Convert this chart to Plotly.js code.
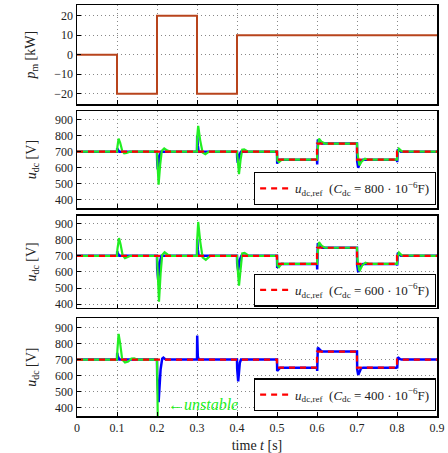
<!DOCTYPE html>
<html>
<head>
<meta charset="utf-8">
<script src="https://cdn.plot.ly/plotly-3.0.1.min.js"></script>
<style>html,body{margin:0;padding:0;background:#fff;}#chart{width:448px;height:453px;}</style>
</head>
<body>
<div id="chart"></div>
<script>
// ---------- data ----------
const pm_t = [0, 0.1, 0.2, 0.3, 0.4, 0.9];
const pm_v = [0, -20, 20, -20, 10, 10];

const ref_t = [0, 0.5, 0.6, 0.7, 0.8, 0.9];
const ref_v = [700, 650, 750, 650, 700, 700];

const capLabels = ["800", "600", "400"];

// C = 800e-6 F
const blue800_t = [0, 0.1, 0.1005, 0.102, 0.106, 0.2, 0.2005, 0.202, 0.206, 0.21, 0.3, 0.3005, 0.302, 0.304, 0.4, 0.4005, 0.402, 0.406, 0.41, 0.5, 0.5005, 0.502, 0.506, 0.6, 0.6005, 0.602, 0.606, 0.612, 0.7, 0.7005, 0.703, 0.708, 0.714, 0.8, 0.8005, 0.802, 0.806, 0.81, 0.9];
const blue800_v = [700, 700, 722, 712, 700, 700, 640, 590, 670, 700, 700, 800, 740, 700, 700, 660, 630, 680, 700, 700, 625, 640, 650, 650, 620, 775, 758, 750, 750, 640, 600, 640, 650, 650, 635, 715, 705, 700, 700];
const green800_t = [0, 0.1, 0.101, 0.104, 0.108, 0.113, 0.118, 0.124, 0.132, 0.2, 0.201, 0.204, 0.208, 0.212, 0.218, 0.226, 0.235, 0.3, 0.3005, 0.303, 0.308, 0.314, 0.321, 0.33, 0.4, 0.401, 0.405, 0.409, 0.413, 0.418, 0.428, 0.5, 0.501, 0.505, 0.512, 0.6, 0.601, 0.605, 0.611, 0.62, 0.7, 0.701, 0.706, 0.712, 0.72, 0.73, 0.8, 0.801, 0.805, 0.812, 0.9];
const green800_v = [700, 700, 730, 780, 755, 705, 690, 692, 700, 700, 640, 495, 620, 705, 720, 706, 700, 700, 790, 860, 770, 695, 684, 700, 700, 660, 560, 650, 712, 714, 700, 700, 645, 635, 650, 650, 700, 780, 762, 750, 750, 690, 615, 640, 656, 650, 650, 685, 718, 702, 700];

// C = 600e-6 F
const blue600_t = [0, 0.1, 0.1005, 0.102, 0.106, 0.2, 0.2005, 0.203, 0.207, 0.211, 0.3, 0.3005, 0.302, 0.304, 0.4, 0.4005, 0.403, 0.407, 0.411, 0.5, 0.5005, 0.502, 0.507, 0.6, 0.6005, 0.602, 0.607, 0.613, 0.7, 0.7005, 0.703, 0.709, 0.715, 0.8, 0.8005, 0.802, 0.806, 0.81, 0.9];
const blue600_v = [700, 700, 728, 714, 700, 700, 620, 550, 660, 700, 700, 805, 740, 700, 700, 650, 610, 675, 700, 700, 625, 638, 650, 650, 615, 778, 760, 750, 750, 640, 600, 638, 650, 650, 640, 718, 706, 700, 700];
const green600_t = [0, 0.1, 0.101, 0.105, 0.109, 0.114, 0.12, 0.126, 0.134, 0.2, 0.201, 0.205, 0.209, 0.213, 0.219, 0.227, 0.236, 0.3, 0.3005, 0.303, 0.308, 0.314, 0.322, 0.333, 0.4, 0.401, 0.405, 0.409, 0.413, 0.419, 0.43, 0.5, 0.501, 0.505, 0.512, 0.518, 0.6, 0.601, 0.605, 0.612, 0.62, 0.7, 0.701, 0.706, 0.713, 0.721, 0.73, 0.8, 0.801, 0.805, 0.812, 0.9];
const green600_v = [700, 700, 740, 810, 770, 705, 686, 690, 700, 700, 620, 415, 590, 705, 722, 707, 700, 700, 800, 910, 790, 690, 675, 700, 700, 640, 515, 640, 715, 718, 700, 700, 640, 630, 652, 650, 650, 705, 785, 762, 750, 750, 680, 605, 640, 657, 650, 650, 690, 720, 703, 700];

// C = 400e-6 F
const blue400_t = [0, 0.1, 0.1005, 0.102, 0.106, 0.2, 0.2005, 0.204, 0.209, 0.213, 0.216, 0.222, 0.3, 0.3005, 0.302, 0.304, 0.4, 0.4005, 0.403, 0.407, 0.41, 0.5, 0.5005, 0.502, 0.508, 0.6, 0.6005, 0.602, 0.607, 0.612, 0.7, 0.7005, 0.703, 0.71, 0.715, 0.8, 0.8005, 0.802, 0.808, 0.812, 0.9];
const blue400_v = [700, 700, 742, 720, 700, 700, 600, 435, 640, 706, 712, 700, 700, 850, 720, 700, 700, 640, 565, 680, 700, 700, 630, 635, 650, 650, 630, 775, 760, 750, 750, 640, 605, 645, 650, 650, 645, 715, 703, 700, 700];
const green400_t = [0, 0.1, 0.101, 0.104, 0.108, 0.113, 0.12, 0.128, 0.136, 0.143, 0.15, 0.2, 0.2005, 0.2015, 0.203];
const green400_v = [700, 700, 760, 860, 800, 700, 682, 688, 706, 708, 700, 700, 600, 420, 150];

// ---------- drawing ----------
const BLUE = "#0000ff", GREEN = "#22ee22", RED = "#ff0000", BROWN = "#b8441c";
const FONT = "Liberation Serif";

function legendText(c) {
  return "<i>u</i><sub>dc,ref</sub>  (<i>C</i><sub>dc</sub> = " + c + " · 10<sup>−6</sup>F)";
}

const traces = [
  {x: pm_t, y: pm_v, type: "scatter", mode: "lines", line: {shape: "hv", color: BROWN, width: 2}, xaxis: "x", yaxis: "y", showlegend: false}
];

const panels = [
  [blue800_t, blue800_v, green800_t, green800_v],
  [blue600_t, blue600_v, green600_t, green600_v],
  [blue400_t, blue400_v, green400_t, green400_v]
];
panels.forEach((p, i) => {
  const ax = String(i + 2);
  traces.push({x: p[0], y: p[1], type: "scatter", mode: "lines", line: {color: BLUE, width: 2.5}, xaxis: "x" + ax, yaxis: "y" + ax, showlegend: false});
  traces.push({x: p[2], y: p[3], type: "scatter", mode: "lines", line: {color: GREEN, width: 2.2}, xaxis: "x" + ax, yaxis: "y" + ax, showlegend: false});
  traces.push({x: ref_t, y: ref_v, type: "scatter", mode: "lines", name: legendText(capLabels[i]),
    line: {shape: "hv", color: RED, width: 2.2, dash: "6px,5px"}, xaxis: "x" + ax, yaxis: "y" + ax,
    showlegend: true, legend: i === 0 ? "legend" : ("legend" + (i + 1))});
});

const gridCommon = {
  showgrid: true, gridcolor: "#888", griddash: "1px,3px", gridwidth: 1,
  showline: true, linecolor: "#000", linewidth: 1.5, mirror: true,
  ticks: "inside", ticklen: 4, tickcolor: "#000", zeroline: false,
  tickfont: {family: FONT, size: 12, color: "#222"}
};

function xax(anchor, labels) {
  return Object.assign({}, gridCommon, {range: [0, 0.9], dtick: 0.1, tick0: 0, anchor: anchor,
    showticklabels: labels, domain: [0, 1]});
}
function yax(dom, range, dtick, anchor, title) {
  return Object.assign({}, gridCommon, {domain: dom, range: range, dtick: dtick, anchor: anchor,
    title: {text: title, font: {family: FONT, size: 14, color: "#222"}, standoff: 15}});
}

const legendCommon = {
  xref: "paper", yref: "paper", xanchor: "right", yanchor: "bottom",
  bgcolor: "#fff", bordercolor: "#000", borderwidth: 1.2,
  font: {family: FONT, size: 13, color: "#222"}, itemwidth: 30, tracegroupgap: 0
};

const layout = {
  width: 448, height: 453,
  margin: {l: 77, r: 11, t: 5, b: 37},
  paper_bgcolor: "#fff", plot_bgcolor: "#fff",
  font: {family: FONT, color: "#222"},
  xaxis: xax("y", false),
  xaxis2: xax("y2", false),
  xaxis3: xax("y3", false),
  xaxis4: Object.assign(xax("y4", true), {title: {text: "time <i>t</i> [s]", font: {family: FONT, size: 14, color: "#222"}, standoff: 11}}),
  yaxis: Object.assign(yax([0.758, 1.0], [-25.5, 25.5], 10, "x", "<i>p</i><sub>m</sub> [kW]"), {tick0: 0}),
  yaxis2: yax([0.506, 0.742], [350, 952], 100, "x2", "<i>u</i><sub>dc</sub> [V]"),
  yaxis3: yax([0.263, 0.487], [377, 948], 100, "x3", "<i>u</i><sub>dc</sub> [V]"),
  yaxis4: yax([0, 0.238], [349, 958], 100, "x4", "<i>u</i><sub>dc</sub> [V]"),
  legend: Object.assign({}, legendCommon, {x: 0.997, y: 0.513}),
  legend2: Object.assign({}, legendCommon, {x: 0.997, y: 0.266}),
  legend3: Object.assign({}, legendCommon, {x: 0.997, y: 0.011}),
  annotations: [{
    x: 0.223, y: 418, xref: "x4", yref: "y4", xanchor: "left", yanchor: "middle",
    text: "<i>←unstable</i>", showarrow: false,
    font: {family: FONT, size: 16, color: GREEN}
  }],
  showlegend: true
};

Plotly.newPlot("chart", traces, layout, {staticPlot: true, displayModeBar: false});
</script>
</body>
</html>
